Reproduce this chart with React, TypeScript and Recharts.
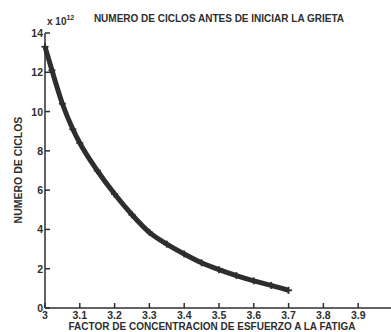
import React from "react";
import {
  ComposedChart,
  Line,
  XAxis,
  YAxis,
  Text,
} from "recharts";

const factor = [3.0, 3.02, 3.05, 3.08, 3.1, 3.15, 3.2, 3.25, 3.3, 3.35, 3.4, 3.45, 3.5, 3.55, 3.6, 3.65, 3.7];
const ciclos = [13.3, 12.1, 10.4, 9.1, 8.4, 7.0, 5.8, 4.75, 3.85, 3.25, 2.75, 2.3, 1.95, 1.65, 1.38, 1.15, 0.9];

const xTicks = [3, 3.1, 3.2, 3.3, 3.4, 3.5, 3.6, 3.7, 3.8, 3.9, 4];
const yTicks = [0, 2, 4, 6, 8, 10, 12, 14];

const data = factor.map((f, i) => ({ f, n: ciclos[i] }));

const ink = "#2e2e2e";
const font = "'Liberation Sans', Arial, sans-serif";

const BottomTick = (props: any) => {
  const { x, y, payload } = props;
  return (
    <g>
      <line x1={x} y1={y} x2={x} y2={y - 5} stroke={ink} strokeWidth={1.5} />
      {payload.value < 4 && (
        <text x={x} y={y + 11} textAnchor="middle" fontSize={10.5} fontWeight="bold" fontFamily={font} fill={ink}>
          {payload.value}
        </text>
      )}
    </g>
  );
};

const TopTick = (props: any) => {
  const { x, y } = props;
  return <line x1={x} y1={y} x2={x} y2={y + 5} stroke={ink} strokeWidth={1.5} />;
};

const LeftTick = (props: any) => {
  const { x, y, payload } = props;
  return (
    <g>
      <line x1={x} y1={y} x2={x + 5} y2={y} stroke={ink} strokeWidth={1.5} />
      <text x={x - 2} y={y + 4} textAnchor="end" fontSize={10.5} fontWeight="bold" fontFamily={font} fill={ink}>
        {payload.value}
      </text>
    </g>
  );
};

const Cross = (props: any) => {
  const { cx, cy } = props;
  if (cx == null || cy == null) return null;
  return (
    <g stroke={ink} strokeWidth={1.8}>
      <line x1={cx - 3.5} y1={cy} x2={cx + 3.5} y2={cy} />
      <line x1={cx} y1={cy - 3.5} x2={cx} y2={cy + 3.5} />
    </g>
  );
};

export default function App() {
  return (
    <div style={{ position: "absolute", left: 0, top: 0, width: 391, height: 332, overflow: "hidden", background: "#fff" }}>
      <ComposedChart width={393} height={332} data={data} margin={{ top: 33, right: 0, left: 0, bottom: 0 }}>
        <XAxis
          dataKey="f"
          type="number"
          domain={[3, 4]}
          ticks={xTicks}
          height={24}
          axisLine={{ stroke: ink, strokeWidth: 1.5 }}
          tickLine={false}
          tickSize={0}
          tickMargin={0}
          tick={<BottomTick />}
          interval={0}
        />
        <XAxis
          xAxisId="top"
          orientation="top"
          dataKey="f"
          type="number"
          domain={[3, 4]}
          ticks={xTicks}
          height={0}
          axisLine={{ stroke: ink, strokeWidth: 1.5 }}
          tickLine={false}
          tickSize={0}
          tickMargin={0}
          tick={<TopTick />}
          interval={0}
        />
        <YAxis
          type="number"
          domain={[0, 14]}
          ticks={yTicks}
          width={45}
          axisLine={{ stroke: ink, strokeWidth: 1.5 }}
          tickLine={false}
          tickSize={0}
          tickMargin={0}
          tick={<LeftTick />}
          interval={0}
        />
        <Line
          dataKey="n"
          type="monotone"
          stroke={ink}
          strokeWidth={5}
          dot={<Cross />}
          isAnimationActive={false}
        />
        <text x={47} y={25} fontSize={10} fontWeight="bold" fontFamily={font} fill={ink}>
          x 10
          <tspan dy={-5} fontSize={7}>12</tspan>
        </text>
        <text x={219} y={22} textAnchor="middle" fontSize={10} fontWeight="bold" fontFamily={font} fill={ink}>
          NUMERO DE CICLOS ANTES DE INICIAR LA GRIETA
        </text>
        <text x={212} y={330} textAnchor="middle" fontSize={10} fontWeight="bold" fontFamily={font} fill={ink}>
          FACTOR DE CONCENTRACION DE ESFUERZO A LA FATIGA
        </text>
        <Text x={18} y={170} angle={-90} textAnchor="middle" verticalAnchor="middle" fontSize={10.5} fontWeight="bold" fontFamily={font} fill={ink}>
          NUMERO DE CICLOS
        </Text>
      </ComposedChart>
    </div>
  );
}
